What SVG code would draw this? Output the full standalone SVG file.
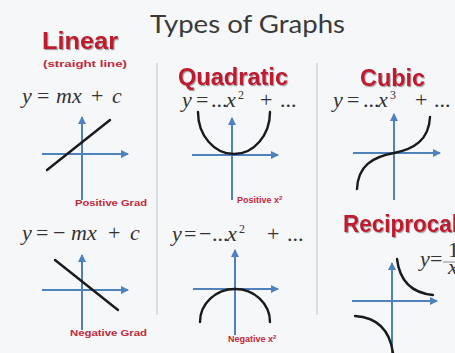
<svg xmlns="http://www.w3.org/2000/svg" width="455" height="353" viewBox="0 0 455 353">
<defs>
<marker id="arr" viewBox="0 0 8 8" refX="7" refY="4" markerWidth="8" markerHeight="8" markerUnits="userSpaceOnUse" orient="auto">
<path d="M0,0 L8,4 L0,8 z" fill="#4f81bd"/>
</marker>
<filter id="sh" x="-10%" y="-10%" width="130%" height="140%">
<feDropShadow dx="1" dy="1.2" stdDeviation="0.7" flood-color="#000" flood-opacity="0.35"/>
</filter>
</defs>
<style>
.bg{fill:#f6f7f9}
.title{font-family:"Lato","Liberation Sans",sans-serif;font-size:25px;fill:#3a3a3a}
.head{font-family:"Liberation Sans",Arial,sans-serif;font-weight:bold;font-size:24px;fill:#be1a2d;filter:url(#sh)}
.lbl{font-family:"Liberation Sans",Arial,sans-serif;font-weight:bold;fill:#c0283a;font-size:9px}
.eq{font-family:"Liberation Serif","Times New Roman",serif;font-size:22px;fill:#333}
.i{font-style:italic}
.sup{font-size:12px}
.sep{stroke:#d3d8df;stroke-width:1.6}
.ax{stroke:#4f81bd;stroke-width:2;fill:none;marker-end:url(#arr)}
.cv{stroke:#1a1a1a;stroke-width:2.4;fill:none;stroke-linecap:round}
</style>
<rect class="bg" x="0" y="0" width="455" height="353"/>
<text class="title" x="150" y="33" textLength="195" lengthAdjust="spacingAndGlyphs">Types of Graphs</text>
<g id="separators">
<line class="sep" x1="157" y1="63" x2="157" y2="315"/>
<line class="sep" x1="317" y1="63" x2="317" y2="315"/>
</g>
<g id="linear">
<text class="head" x="42" y="49" textLength="76" lengthAdjust="spacingAndGlyphs">Linear</text>
<text class="lbl" x="43" y="67" font-size="10.5" textLength="84" lengthAdjust="spacingAndGlyphs">(straight line)</text>
<text class="eq" y="103"><tspan class="i" x="22">y</tspan><tspan x="37">=</tspan><tspan class="i" x="56">mx</tspan><tspan x="91">+</tspan><tspan class="i" x="112">c</tspan></text>
<line class="ax" x1="82" y1="200" x2="82" y2="117"/>
<line class="ax" x1="42" y1="154" x2="128" y2="154"/>
<line class="cv" x1="47" y1="170" x2="110" y2="120"/>
<text class="lbl" x="75" y="206" textLength="72" lengthAdjust="spacingAndGlyphs">Positive Grad</text>
</g>
<g id="linear-negative">
<text class="eq" y="240"><tspan class="i" x="22">y</tspan><tspan x="36">=</tspan><tspan x="53">−</tspan><tspan class="i" x="71">mx</tspan><tspan x="108">+</tspan><tspan class="i" x="130">c</tspan></text>
<line class="ax" x1="82" y1="330" x2="82" y2="255"/>
<line class="ax" x1="42" y1="290" x2="128" y2="290"/>
<line class="cv" x1="55" y1="260" x2="118" y2="310"/>
<text class="lbl" x="70" y="336" textLength="77" lengthAdjust="spacingAndGlyphs">Negative Grad</text>
</g>
<g id="quadratic">
<text class="head" x="178" y="85" textLength="110" lengthAdjust="spacingAndGlyphs">Quadratic</text>
<text class="eq" y="107"><tspan class="i" x="182">y</tspan><tspan x="196">=</tspan><tspan x="211">...</tspan><tspan class="i" x="226">x</tspan><tspan class="sup" x="238" dy="-8">2</tspan><tspan x="260" dy="8">+</tspan><tspan x="280">...</tspan></text>
<line class="ax" x1="232" y1="200" x2="232" y2="118"/>
<line class="ax" x1="192" y1="155" x2="278" y2="155"/>
<path class="cv" d="M198,112 A36,42 0 0 0 270,112"/>
<text class="lbl" x="237" y="203" font-size="8.5">Positive x<tspan font-size="6" dy="-3">2</tspan></text>
</g>
<g id="quadratic-negative">
<text class="eq" y="241"><tspan class="i" x="172">y</tspan><tspan x="184">=</tspan><tspan x="199">−</tspan><tspan x="212">...</tspan><tspan class="i" x="227">x</tspan><tspan class="sup" x="239" dy="-8">2</tspan><tspan x="267" dy="8">+</tspan><tspan x="287">...</tspan></text>
<line class="ax" x1="235" y1="335" x2="235" y2="250"/>
<line class="ax" x1="193" y1="289" x2="278" y2="289"/>
<path class="cv" d="M200,322 A35,33 0 0 1 270,322"/>
<text class="lbl" x="228" y="342" font-size="8.5">Negative x<tspan font-size="6" dy="-3">2</tspan></text>
</g>
<g id="cubic">
<text class="head" x="360" y="86" textLength="65" lengthAdjust="spacingAndGlyphs">Cubic</text>
<text class="eq" y="107"><tspan class="i" x="333">y</tspan><tspan x="347">=</tspan><tspan x="363">...</tspan><tspan class="i" x="378">x</tspan><tspan class="sup" x="390" dy="-8">3</tspan><tspan x="415" dy="8">+</tspan><tspan x="434">...</tspan></text>
<line class="ax" x1="394" y1="200" x2="394" y2="114"/>
<line class="ax" x1="353" y1="153" x2="440" y2="153"/>
<path class="cv" d="M357,189 C358,166 372,157 394,153 C414,149 429,140 430,117"/>
</g>
<g id="reciprocal">
<text class="head" x="343" y="232" textLength="115" lengthAdjust="spacingAndGlyphs">Reciprocal</text>
<text class="eq" y="266" font-size="13" fill="#777"><tspan class="i" x="420">y</tspan><tspan x="430">=</tspan></text>
<line x1="443" y1="262" x2="456" y2="262" stroke="#888" stroke-width="1"/>
<text class="eq" x="448" y="257" font-size="10" fill="#888">1</text>
<text class="eq i" x="448" y="274" font-size="10" fill="#888">x</text>
<line class="ax" x1="392" y1="353" x2="392" y2="263"/>
<line class="ax" x1="352" y1="301" x2="437" y2="301"/>
<path class="cv" d="M397,259 Q401,292 433,295"/>
<path class="cv" d="M355,316 Q388,318 393,353"/>
</g>
</svg>
